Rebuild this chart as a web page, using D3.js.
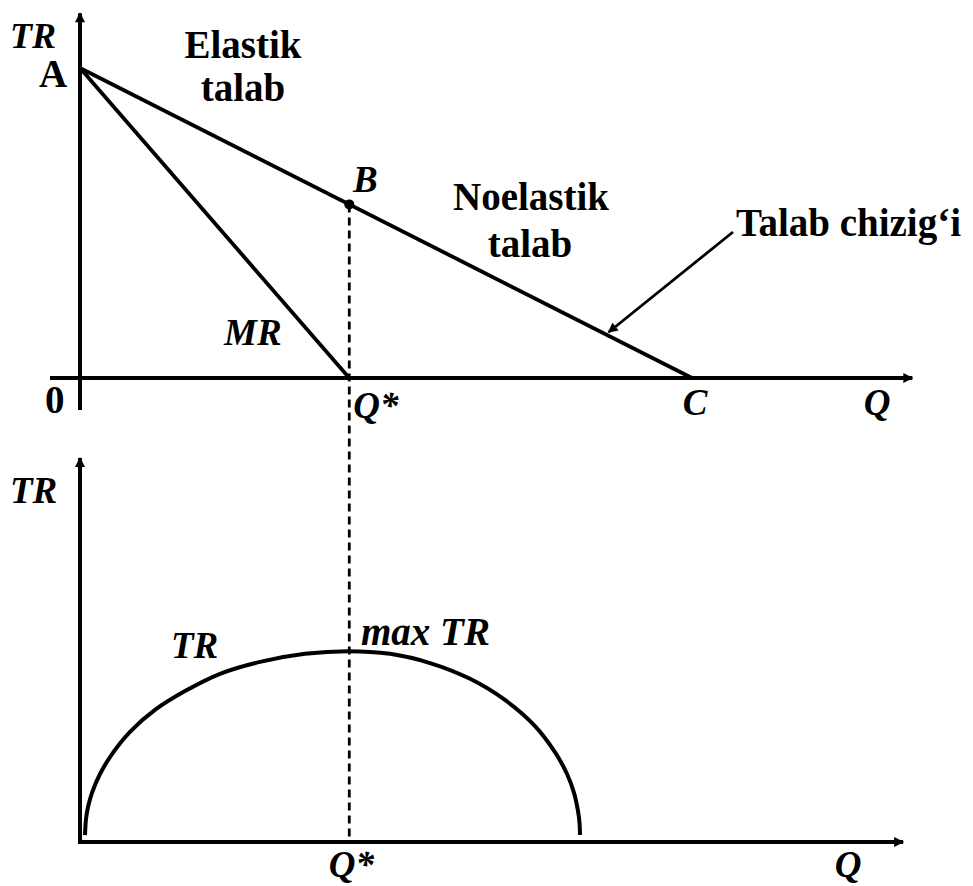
<!DOCTYPE html>
<html>
<head>
<meta charset="utf-8">
<script src="https://cdn.jsdelivr.net/npm/d3@7"></script>
<style>
  body { margin: 0; background: #fff; }
  text { font-family: "Liberation Serif", "Times New Roman", serif; font-weight: bold; fill: #000; }
  .it { font-style: italic; }
</style>
</head>
<body>
<svg id="chart" width="973" height="886"></svg>
<script>
// top panel: demand line A -> C, MR line A -> Q*
const DEMAND_Q = [0, 10];
const DEMAND_P = [10, 0];
const MR_Q = [0, 4.4];
const MR_P = [10, 0];
const Q_STAR = 4.4;

// bottom panel: TR curve
const TR_Q = [0.082, 0.098, 0.131, 0.196, 0.327, 0.523, 0.817, 1.225, 1.716, 2.288, 2.941, 3.676, 4.379,
	5.065, 5.719, 6.373, 6.944, 7.435, 7.761, 7.958, 8.072, 8.137, 8.162, 8.17];
const TR_V = [1.8, 6.0, 9.1, 12.8, 17.7, 22.9, 28.7, 34.4, 39.3, 43.8, 46.9, 49.0, 49.7,
	49.0, 46.6, 42.5, 37.0, 30.2, 23.4, 17.7, 12.8, 8.1, 5.0, 1.8];

function whenDocumentLoaded(action) {
	if (document.readyState === "loading") {
		document.addEventListener("DOMContentLoaded", action);
	} else {
		action();
	}
}

function draw() {
	const svg = d3.select('#chart');

	// arrow head for the axes and the pointer
	const defs = svg.append('defs');
	defs.append('marker')
		.attr('id', 'arrow')
		.attr('viewBox', '0 0 10 10')
		.attr('refX', 9).attr('refY', 5)
		.attr('markerWidth', 14).attr('markerHeight', 10)
		.attr('markerUnits', 'userSpaceOnUse')
		.attr('orient', 'auto')
		.append('path').attr('d', 'M0,0 L10,5 L0,10 Z').attr('fill', '#000');

	const x = d3.scaleLinear().domain([0, 10]).range([80, 692]);
	const yTop = d3.scaleLinear().domain([0, 10]).range([378, 68]);
	const yBot = d3.scaleLinear().domain([0, 100]).range([842, 458]);

	const axisLine = (x1, y1, x2, y2, arrow) => svg.append('line')
		.attr('x1', x1).attr('y1', y1).attr('x2', x2).attr('y2', y2)
		.attr('stroke', '#000').attr('stroke-width', 4)
		.attr('marker-end', arrow ? 'url(#arrow)' : null);

	// ---- top axes
	axisLine(x(0), yTop(-1.03), x(0), yTop(11.77), true);
	axisLine(x(-0.49), yTop(0), x(13.6), yTop(0), true);

	// ---- bottom axes
	axisLine(x(0), yBot(0) + 2, x(0), yBot(100), true);
	axisLine(x(0) - 2, yBot(0), x(13.45), yBot(0), true);

	const line = d3.line().x(d => x(d[0]));

	// dashed Q* line from B down to bottom axis
	const pStar = d3.scaleLinear().domain(DEMAND_Q).range(DEMAND_P)(Q_STAR);
	svg.append('line')
		.attr('x1', x(Q_STAR)).attr('y1', yTop(pStar))
		.attr('x2', x(Q_STAR)).attr('y2', yBot(0))
		.attr('stroke', '#000').attr('stroke-width', 2.8)
		.attr('stroke-dasharray', '8,5');

	// demand and MR
	svg.append('path')
		.attr('d', line.y(d => yTop(d[1]))(d3.zip(DEMAND_Q, DEMAND_P)))
		.attr('fill', 'none').attr('stroke', '#000').attr('stroke-width', 3.8);
	svg.append('path')
		.attr('d', line.y(d => yTop(d[1]))(d3.zip(MR_Q, MR_P)))
		.attr('fill', 'none').attr('stroke', '#000').attr('stroke-width', 3.8);

	svg.append('circle')
		.attr('cx', x(Q_STAR)).attr('cy', yTop(pStar)).attr('r', 5).attr('fill', '#000');

	// TR curve
	svg.append('path')
		.attr('d', d3.line().x(d => x(d[0])).y(d => yBot(d[1])).curve(d3.curveCatmullRom.alpha(0.5))(d3.zip(TR_Q, TR_V)))
		.attr('fill', 'none').attr('stroke', '#000').attr('stroke-width', 4);

	// pointer to the demand line
	const ptrQ = 8.62;
	const ptrP = d3.scaleLinear().domain(DEMAND_Q).range(DEMAND_P)(ptrQ);
	svg.append('line')
		.attr('x1', 733).attr('y1', 232)
		.attr('x2', x(ptrQ) + 1).attr('y2', yTop(ptrP) - 3)
		.attr('stroke', '#000').attr('stroke-width', 2.8)
		.attr('marker-end', 'url(#arrow)');

	// labels
	const label = (t, px, py, italic, anchor, size) => svg.append('text')
		.attr('x', px).attr('y', py)
		.attr('font-size', size || (italic ? 37 : 39))
		.attr('class', italic ? 'it' : null)
		.attr('text-anchor', anchor || 'start')
		.text(t);

	label('TR', 10, 48, true, 'start', 36);
	label('A', 39, 87, false);
	label('0', 45, 413, false);
	label('Elastik', 243, 58, false, 'middle');
	label('talab', 243, 101, false, 'middle');
	label('B', 353, 192, true);
	label('Noelastik', 531, 210, false, 'middle');
	label('talab', 530, 257, false, 'middle');
	label('Talab chizig\u2018i', 736, 236, false);
	label('MR', 224, 345, true);
	label('Q*', x(Q_STAR) + 4, 418, true);
	label('C', x(10) + 3, 415, true, 'middle');
	label('Q', 877, 415, true, 'middle');

	label('TR', 10, 503, true);
	label('TR', 171, 658, true);
	label('max TR', 361, 645, true, 'start', 39);
	label('Q*', x(Q_STAR) + 2, 877, true, 'middle');
	label('Q', 848, 877, true, 'middle');
}

whenDocumentLoaded(draw);
</script>
</body>
</html>
